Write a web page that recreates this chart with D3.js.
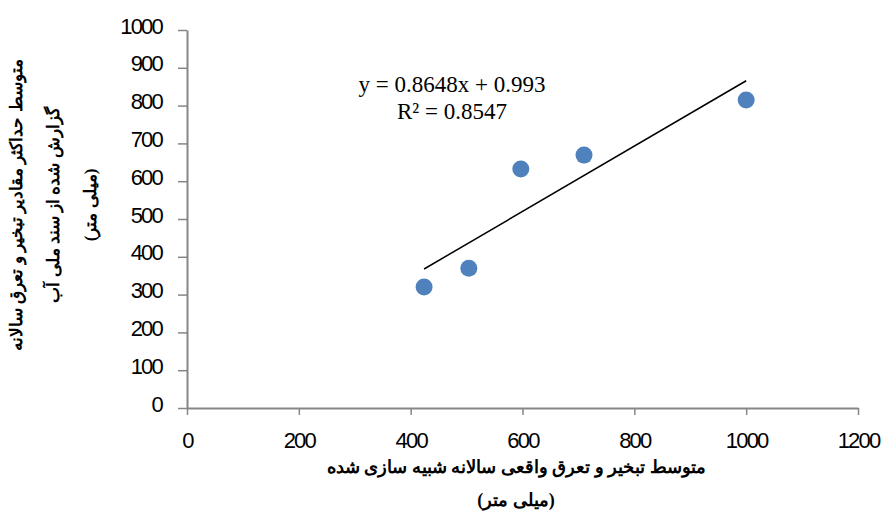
<!DOCTYPE html>
<html>
<head>
<meta charset="utf-8">
<script src="https://cdn.jsdelivr.net/npm/d3@7"></script>
<style>
  body { margin: 0; background: #fff; }
  svg { display: block; }
</style>
</head>
<body>
<svg id="chart"></svg>
<script>
// data
const simulated = [424, 504, 597, 710, 1000];
const reported = [320, 370, 632, 669, 815];
const trendCoef = [0.8648, 0.993]; // slope, intercept
const equationLines = ["y = 0.8648x + 0.993", "R² = 0.8547"];
const xTicks = [0, 200, 400, 600, 800, 1000, 1200];
const yTicks = [0, 100, 200, 300, 400, 500, 600, 700, 800, 900, 1000];
const xTitle = ["متوسط تبخیر و تعرق واقعی سالانه شبیه سازی شده", "(میلی متر)"];
const yTitle = ["متوسط حداکثر مقادیر تبخیر و تعرق سالانه", "گزارش شده از سند ملی آب", "(میلی متر)"];

const width = 883, height = 512;
const svg = d3.select("#chart")
    .attr("width", width)
    .attr("height", height);

const x = d3.scaleLinear().domain([0, 1200]).range([187, 858]);
const y = d3.scaleLinear().domain([0, 1000]).range([408, 30]);

const axisColor = "#868686";

//Axis
const xAxisG = svg.append("g")
    .attr("transform", `translate(0, ${y(0)})`)
    .call(d3.axisBottom(x).tickValues(xTicks).tickFormat(d3.format("d"))
        .tickSize(7).tickPadding(17).tickSizeOuter(0));
const yAxisG = svg.append("g")
    .attr("transform", `translate(${x(0)}, 0)`)
    .call(d3.axisLeft(y).tickValues(yTicks).tickFormat(d3.format("d"))
        .tickSize(9).tickPadding(16).tickSizeOuter(0));

[xAxisG, yAxisG].forEach(g => {
    g.select(".domain").attr("stroke", axisColor).attr("stroke-width", 2);
    g.selectAll(".tick line").attr("stroke", axisColor).attr("stroke-width", 1.5);
    g.selectAll(".tick text")
        .attr("fill", "#000")
        .style("font-family", "'Liberation Sans', Arial, sans-serif")
        .style("font-size", "22px")
        .style("letter-spacing", "-1.8px");
});
yAxisG.selectAll(".tick text").attr("y", -4);

//Trend line
const xExt = d3.extent(simulated);
svg.append("line")
    .attr("x1", x(xExt[0]))
    .attr("y1", y(trendCoef[0] * xExt[0] + trendCoef[1]))
    .attr("x2", x(xExt[1]))
    .attr("y2", y(trendCoef[0] * xExt[1] + trendCoef[1]))
    .attr("stroke", "#000")
    .attr("stroke-width", 1.5);

//Points
svg.append("g")
    .selectAll("circle")
    .data(simulated)
    .join("circle")
    .attr("cx", d => x(d))
    .attr("cy", (d, i) => y(reported[i]))
    .attr("r", 8.5)
    .attr("fill", "#4f81bd");

//Equation
svg.append("g")
    .selectAll("text")
    .data(equationLines)
    .join("text")
    .attr("x", 452)
    .attr("y", (d, i) => 92 + i * 27)
    .attr("text-anchor", "middle")
    .style("font-family", "'Liberation Serif', 'Times New Roman', serif")
    .style("font-size", "23px")
    .text(d => d);

//Titles
svg.append("g")
    .selectAll("text")
    .data(xTitle)
    .join("text")
    .attr("x", 516)
    .attr("y", (d, i) => 473 + i * 33)
    .attr("text-anchor", "middle")
    .attr("direction", "rtl")
    .style("font-family", "'Liberation Serif', 'Times New Roman', serif")
    .style("font-weight", "bold")
    .style("font-size", "18px")
    .text(d => d);

svg.append("g")
    .selectAll("text")
    .data(yTitle)
    .join("text")
    .attr("transform", (d, i) => `translate(${22 + i * 37}, 205) rotate(-90)`)
    .attr("text-anchor", "middle")
    .attr("direction", "rtl")
    .style("font-family", "'Liberation Serif', 'Times New Roman', serif")
    .style("font-weight", "bold")
    .style("font-size", "17px")
    .text(d => d);
</script>
</body>
</html>
